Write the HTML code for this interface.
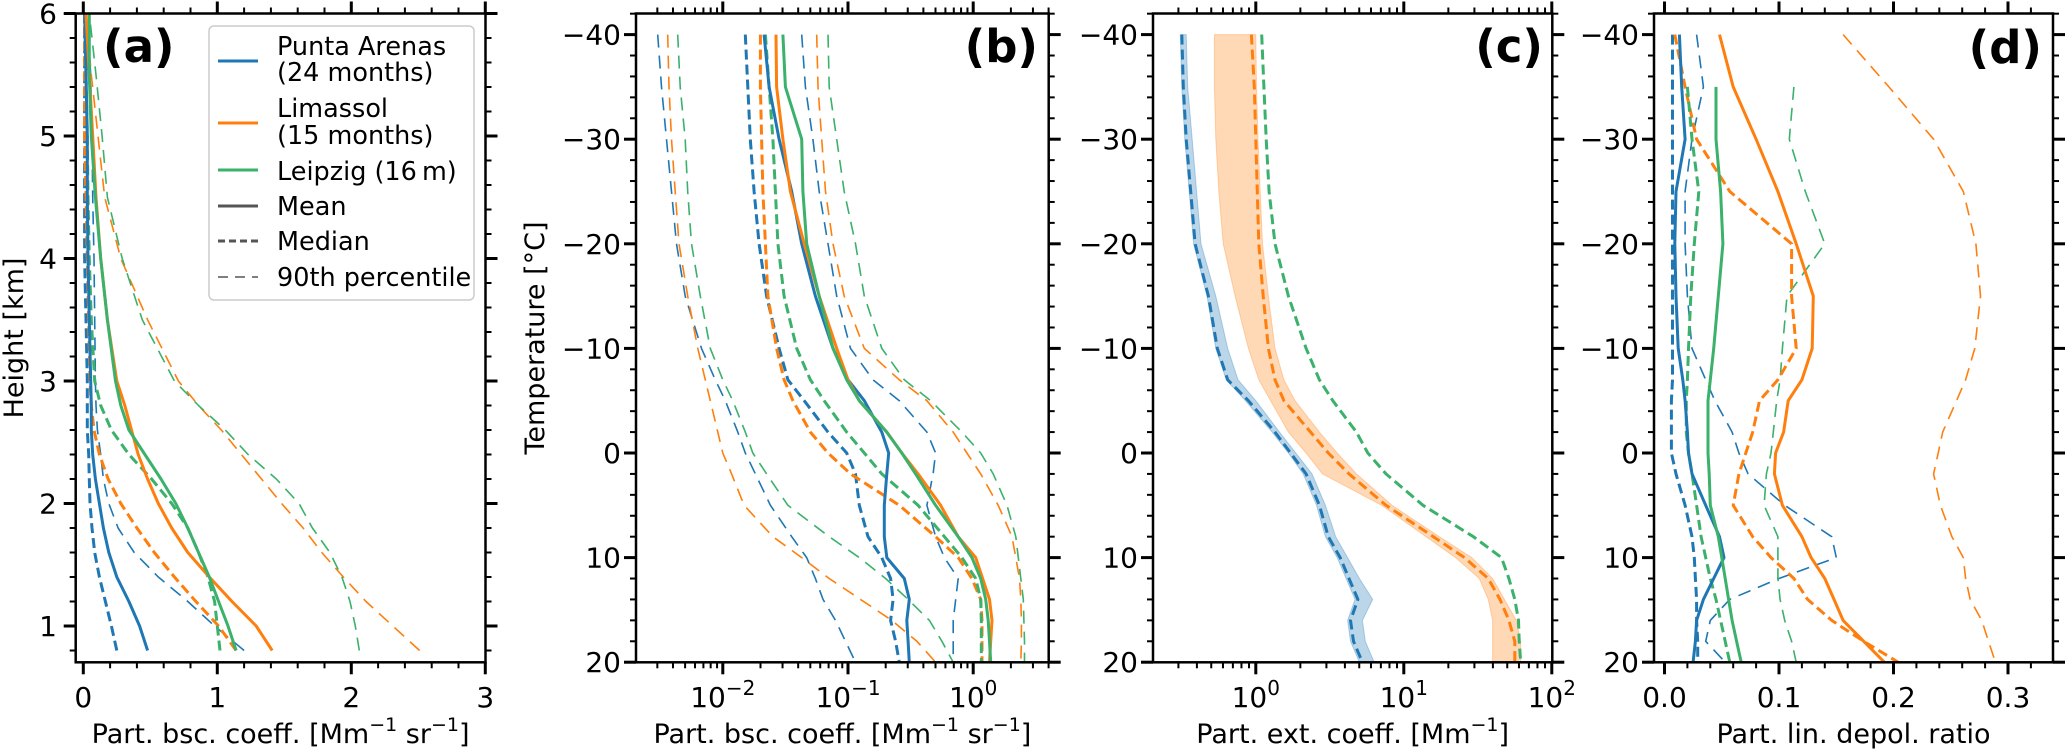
<!DOCTYPE html>
<html><head><meta charset="utf-8">
<style>
html,body{margin:0;padding:0;background:#fff;}
svg{display:block;font-family:"DejaVu Sans","Liberation Sans",sans-serif;}
</style></head>
<body>
<svg id="fig" width="2067" height="754" viewBox="0 0 2067 754" xmlns="http://www.w3.org/2000/svg"></svg>
<script>
// ---------- DATA ----------
const aHeights=[0.8,1.0,1.2,1.4,1.6,1.8,2.0,2.2,2.4,2.6,2.8,3.0,3.5,4.0,4.5,5.0,5.5,6.0];
const aBlueMean=[0.48,0.42,0.34,0.25,0.19,0.15,0.12,0.09,0.07,0.06,0.06,0.055,0.045,0.035,0.03,0.03,0.02,0.01];
const aBlueMedian=[0.25,0.21,0.165,0.12,0.085,0.065,0.05,0.045,0.04,0.03,0.03,0.03,0.02,0.01,0.01,0.01,0.01,0.01];
const aBlueP90=[1.2,0.98,0.78,0.56,0.38,0.26,0.19,0.15,0.13,0.105,0.095,0.09,0.085,0.08,0.07,0.065,0.055,0.03];
const aOrangeMean=[1.41,1.29,1.11,0.94,0.78,0.66,0.56,0.48,0.41,0.36,0.31,0.25,0.18,0.13,0.095,0.07,0.045,0.02];
const aOrangeMedian=[1.14,1.01,0.84,0.68,0.53,0.40,0.28,0.185,0.12,0.08,0.06,0.05,0.04,0.03,0.02,0.01,0.01,0.01];
const aOrangeP90=[2.51,2.31,2.11,1.94,1.78,1.64,1.48,1.33,1.18,1.03,0.86,0.71,0.48,0.28,0.16,0.11,0.06,0.02];
const aGreenMean=[1.14,1.08,1.01,0.94,0.86,0.78,0.69,0.58,0.46,0.34,0.28,0.24,0.18,0.13,0.09,0.06,0.045,0.045];
const aGreenMedian=[1.02,1.0,0.98,0.93,0.86,0.78,0.66,0.51,0.34,0.21,0.13,0.085,0.06,0.045,0.035,0.03,0.02,0.02];
const aGreenP90=[2.06,2.03,1.99,1.93,1.84,1.71,1.61,1.44,1.23,1.06,0.86,0.68,0.44,0.29,0.18,0.14,0.095,0.045];

const temps=[-40,-35,-30,-25,-20,-15,-10,-7,-5,-2,0,2,5,8,10,12,14,16,18,20];
const bBlueMeanLog=[-1.67,-1.63,-1.55,-1.45,-1.37,-1.26,-1.12,-1.0,-0.87,-0.73,-0.675,-0.69,-0.71,-0.71,-0.69,-0.55,-0.51,-0.53,-0.52,-0.51];
const bBlueMedianLog=[-1.82,-1.8,-1.78,-1.75,-1.71,-1.65,-1.55,-1.48,-1.35,-1.16,-1.01,-0.94,-0.91,-0.84,-0.73,-0.66,-0.64,-0.66,-0.62,-0.59];
const bBlueP90Log=[-1.37,-1.34,-1.28,-1.23,-1.16,-1.09,-0.98,-0.8,-0.59,-0.37,-0.3,-0.32,-0.37,-0.3,-0.23,-0.12,-0.14,-0.16,-0.16,-0.16];
const bBlueP10Log=[-2.52,-2.49,-2.45,-2.41,-2.37,-2.3,-2.17,-2.06,-1.98,-1.88,-1.82,-1.74,-1.62,-1.45,-1.33,-1.26,-1.2,-1.1,-1.02,-0.94];
const bOrangeMeanLog=[-1.575,-1.57,-1.52,-1.46,-1.35,-1.23,-1.09,-1.0,-0.91,-0.69,-0.57,-0.44,-0.26,-0.12,0.02,0.075,0.13,0.15,0.14,0.13];
const bOrangeMedianLog=[-1.7,-1.7,-1.69,-1.68,-1.66,-1.64,-1.57,-1.51,-1.44,-1.3,-1.16,-0.98,-0.59,-0.3,-0.12,-0.01,0.06,0.07,0.07,0.07];
const bOrangeP90Log=[-1.25,-1.24,-1.21,-1.18,-1.12,-1.03,-0.87,-0.59,-0.37,-0.16,-0.05,0.06,0.2,0.31,0.34,0.37,0.38,0.385,0.385,0.38];
const bOrangeP10Log=[-2.44,-2.43,-2.41,-2.38,-2.35,-2.28,-2.2,-2.14,-2.1,-2.04,-2.0,-1.93,-1.83,-1.6,-1.37,-1.15,-0.9,-0.65,-0.45,-0.3];
const bGreenMeanLog=[-1.52,-1.5,-1.37,-1.36,-1.33,-1.23,-1.12,-1.01,-0.91,-0.69,-0.57,-0.46,-0.3,-0.12,-0.01,0.06,0.1,0.12,0.13,0.14];
const bGreenMedianLog=[-1.66,-1.63,-1.6,-1.58,-1.56,-1.51,-1.41,-1.3,-1.19,-1.01,-0.87,-0.73,-0.44,-0.23,-0.09,0.02,0.06,0.065,0.065,0.065];
const bGreenP90Log=[-1.16,-1.15,-1.09,-1.03,-0.94,-0.87,-0.73,-0.55,-0.34,-0.09,0.06,0.16,0.27,0.34,0.36,0.38,0.4,0.405,0.41,0.41];
const bGreenP10Log=[-2.36,-2.34,-2.3,-2.28,-2.25,-2.18,-2.1,-2.0,-1.92,-1.82,-1.76,-1.65,-1.48,-1.15,-0.91,-0.7,-0.52,-0.35,-0.25,-0.16];
const cBlueMedianLog=[-0.5,-0.49,-0.47,-0.44,-0.41,-0.32,-0.26,-0.19,-0.05,0.13,0.235,0.34,0.43,0.49,0.57,0.63,0.69,0.64,0.66,0.72];
const cBlueLoLog=[-0.51,-0.5,-0.48,-0.45,-0.42,-0.33,-0.27,-0.2,-0.07,0.11,0.22,0.32,0.41,0.47,0.55,0.61,0.67,0.62,0.64,0.7];
const cBlueHiLog=[-0.47,-0.46,-0.43,-0.4,-0.37,-0.27,-0.19,-0.12,0.0,0.16,0.27,0.38,0.47,0.54,0.62,0.7,0.79,0.72,0.74,0.8];
const cOrangeMedianLog=[-0.03,-0.01,0.0,0.01,0.02,0.05,0.085,0.13,0.19,0.37,0.49,0.63,0.88,1.2,1.41,1.57,1.65,1.71,1.75,1.75];
const cOrangeLoLog=[-0.28,-0.28,-0.27,-0.25,-0.22,-0.14,-0.05,0.02,0.1,0.22,0.34,0.45,0.85,1.15,1.35,1.51,1.57,1.6,1.6,1.6];
const cOrangeHiLog=[0.0,0.005,0.015,0.03,0.045,0.085,0.13,0.19,0.265,0.43,0.55,0.68,0.92,1.24,1.46,1.6,1.68,1.76,1.79,1.79];
const cGreenMedianLog=[0.04,0.055,0.07,0.09,0.13,0.22,0.34,0.43,0.52,0.68,0.757,0.88,1.13,1.47,1.66,1.71,1.75,1.775,1.78,1.79];
const dBlueMean=[0.013,0.015,0.018,0.010,0.009,0.010,0.012,0.016,0.018,0.02,0.021,0.024,0.036,0.048,0.052,0.043,0.034,0.028,0.027,0.025];
const dBlueMedian=[0.007,0.007,0.007,0.007,0.007,0.007,0.007,0.007,0.006,0.006,0.006,0.01,0.018,0.024,0.026,0.027,0.028,0.028,0.029,0.029];
const dBlueP90=[0.028,0.034,0.024,0.018,0.018,0.02,0.024,0.036,0.044,0.059,0.065,0.073,0.105,0.146,0.15,0.1,0.057,0.04,0.036,0.053];
const dOrangeMean=[0.048,0.06,0.08,0.099,0.115,0.13,0.129,0.12,0.108,0.104,0.097,0.096,0.103,0.12,0.128,0.14,0.148,0.156,0.174,0.192];
const dOrangeMedian=[0.009,0.018,0.028,0.057,0.111,0.111,0.115,0.099,0.083,0.077,0.071,0.065,0.06,0.077,0.093,0.113,0.125,0.146,0.174,0.204];
const dOrangeP90=[0.156,0.196,0.235,0.261,0.272,0.276,0.271,0.263,0.255,0.243,0.239,0.235,0.241,0.251,0.261,0.263,0.267,0.277,0.283,0.289];
const dGreenMean=[null,0.045,0.045,0.049,0.051,0.047,0.043,0.04,0.038,0.038,0.038,0.039,0.04,0.047,0.05,0.053,0.056,0.059,0.063,0.067];
const dGreenMedian=[null,0.020,0.024,0.03,0.026,0.023,0.021,0.02,0.019,0.019,0.021,0.024,0.028,0.032,0.036,0.04,0.045,0.049,0.053,0.057];
const dGreenP90=[null,0.113,0.109,0.123,0.14,0.107,0.103,0.101,0.098,0.095,0.093,0.089,0.087,0.099,0.099,0.099,0.101,0.105,0.111,0.115];

// ---------- RENDER ----------
const NS="http://www.w3.org/2000/svg";
const svg=document.getElementById('fig');
const BLUE="#1f77b4",ORANGE="#ff7f0e",GREEN="#3bb16b";
const FS=28;
function mk(tag,attrs,parent){const e=document.createElementNS(NS,tag);for(const k in attrs)e.setAttribute(k,attrs[k]);(parent||svg).appendChild(e);return e;}

const TOP=13.5,BOT=662.3;
const yA=h=>626-(h-1)*122.5;
const yT=t=>34.6+(t+40)*10.46;
const xA=v=>83.3+v*134;
const xB=l=>973.2+l*125.2;
const xC=l=>1255.8+l*148;
const xD=v=>1664.5+v*1145;
const panels={a:[75.7,485.5],b:[636,1048.7],c:[1153,1552.3],d:[1654,2053]};

const defs=mk('defs',{});
for(const k in panels){const cp=mk('clipPath',{id:'clip-'+k},defs);mk('rect',{x:panels[k][0],y:TOP,width:panels[k][1]-panels[k][0],height:BOT-TOP},cp);}

const styles={mean:{w:3,dash:null},median:{w:3,dash:"10 5"},pct:{w:1.6,dash:"13 8"}};
function line(panel,xs,ys,color,kind,name){
  let d="";let pen=false;
  for(let i=0;i<xs.length;i++){
    if(xs[i]===null||ys[i]===null){pen=false;continue;}
    d+=(pen?"L":"M")+xs[i].toFixed(1)+","+ys[i].toFixed(1);pen=true;
  }
  const st=styles[kind];
  const p=mk('path',{d:d,fill:"none",stroke:color,"stroke-width":st.w,"clip-path":"url(#clip-"+panel+")","stroke-linejoin":"round"});
  if(st.dash)p.setAttribute('stroke-dasharray',st.dash);
  
  
  return p;
}
function band(panel,lo,hi,ys,color,name){
  let d="";
  for(let i=0;i<lo.length;i++)d+=(i?"L":"M")+lo[i].toFixed(1)+","+ys[i].toFixed(1);
  for(let i=hi.length-1;i>=0;i--)d+="L"+hi[i].toFixed(1)+","+ys[i].toFixed(1);
  d+="Z";
  const p=mk('path',{d:d,fill:color,"fill-opacity":0.3,stroke:color,"stroke-opacity":0.3,"stroke-width":1,"clip-path":"url(#clip-"+panel+")"});
  
  
}

const ya=aHeights.map(yA);
const mapA=a=>a.map(v=>v===null?null:xA(v));
line('a',mapA(aBlueP90),ya,BLUE,'pct','a-punta-arenas-p90');
line('a',mapA(aOrangeP90),ya,ORANGE,'pct','a-limassol-p90');
line('a',mapA(aGreenP90),ya,GREEN,'pct','a-leipzig-p90');
line('a',mapA(aBlueMedian),ya,BLUE,'median','a-punta-arenas-median');
line('a',mapA(aOrangeMedian),ya,ORANGE,'median','a-limassol-median');
line('a',mapA(aGreenMedian),ya,GREEN,'median','a-leipzig-median');
line('a',mapA(aBlueMean),ya,BLUE,'mean','a-punta-arenas-mean');
line('a',mapA(aOrangeMean),ya,ORANGE,'mean','a-limassol-mean');
line('a',mapA(aGreenMean),ya,GREEN,'mean','a-leipzig-mean');

const yt=temps.map(yT);
const mapB=a=>a.map(v=>v===null?null:xB(v));
line('b',mapB(bBlueP10Log),yt,BLUE,'pct','b-punta-arenas-p10');
line('b',mapB(bOrangeP10Log),yt,ORANGE,'pct','b-limassol-p10');
line('b',mapB(bGreenP10Log),yt,GREEN,'pct','b-leipzig-p10');
line('b',mapB(bBlueP90Log),yt,BLUE,'pct','b-punta-arenas-p90');
line('b',mapB(bOrangeP90Log),yt,ORANGE,'pct','b-limassol-p90');
line('b',mapB(bGreenP90Log),yt,GREEN,'pct','b-leipzig-p90');
line('b',mapB(bBlueMedianLog),yt,BLUE,'median','b-punta-arenas-median');
line('b',mapB(bOrangeMedianLog),yt,ORANGE,'median','b-limassol-median');
line('b',mapB(bGreenMedianLog),yt,GREEN,'median','b-leipzig-median');
line('b',mapB(bBlueMeanLog),yt,BLUE,'mean','b-punta-arenas-mean');
line('b',mapB(bOrangeMeanLog),yt,ORANGE,'mean','b-limassol-mean');
line('b',mapB(bGreenMeanLog),yt,GREEN,'mean','b-leipzig-mean');

const mapC=a=>a.map(v=>v===null?null:xC(v));
band('c',mapC(cBlueLoLog),mapC(cBlueHiLog),yt,BLUE,'c-punta-arenas-band');
band('c',mapC(cOrangeLoLog),mapC(cOrangeHiLog),yt,ORANGE,'c-limassol-band');
line('c',mapC(cBlueMedianLog),yt,BLUE,'median','c-punta-arenas-median');
line('c',mapC(cOrangeMedianLog),yt,ORANGE,'median','c-limassol-median');
line('c',mapC(cGreenMedianLog),yt,GREEN,'median','c-leipzig-median');

const mapD=a=>a.map(v=>v===null?null:xD(v));
line('d',mapD(dBlueP90),yt,BLUE,'pct','d-punta-arenas-p90');
line('d',mapD(dOrangeP90),yt,ORANGE,'pct','d-limassol-p90');
line('d',mapD(dGreenP90),yt,GREEN,'pct','d-leipzig-p90');
line('d',mapD(dBlueMedian),yt,BLUE,'median','d-punta-arenas-median');
line('d',mapD(dOrangeMedian),yt,ORANGE,'median','d-limassol-median');
line('d',mapD(dGreenMedian),yt,GREEN,'median','d-leipzig-median');
line('d',mapD(dBlueMean),yt,BLUE,'mean','d-punta-arenas-mean');
line('d',mapD(dOrangeMean),yt,ORANGE,'mean','d-limassol-mean');
line('d',mapD(dGreenMean),yt,GREEN,'mean','d-leipzig-mean');

// ---------- AXES ----------
const MAJ=12,MIN=6;
function tickX(px,major){
  mk('line',{x1:px,x2:px,y1:BOT,y2:BOT+(major?MAJ:MIN),stroke:"#000","stroke-width":major?3:2});
  mk('line',{x1:px,x2:px,y1:TOP,y2:TOP-(major?MAJ:MIN),stroke:"#000","stroke-width":major?3:2});
}
function tickY(panel,py,major){
  const [l,r]=panels[panel];
  mk('line',{x1:l,x2:l-(major?MAJ:MIN),y1:py,y2:py,stroke:"#000","stroke-width":major?3:2});
  mk('line',{x1:r,x2:r+(major?MAJ:MIN),y1:py,y2:py,stroke:"#000","stroke-width":major?3:2});
}
function txt(x,y,s,opts,name){
  const t=mk('text',Object.assign({x:x,y:y,"font-size":FS,fill:"#000"},opts||{}));
  t.textContent=s;
  
  
  return t;
}
function powLabel(x,y,exp,name){
  const t=mk('text',{x:x,y:y,"font-size":FS,"text-anchor":"middle",fill:"#000"});
  const a=mk('tspan',{},t);a.textContent="10";
  const b=mk('tspan',{dy:-12,"font-size":20},t);b.textContent=exp;
  
  
}

for(let v=0;v<=3.0001;v+=0.2){const maj=Math.abs(v-Math.round(v))<1e-6;tickX(xA(v),maj);}
[0,1,2,3].forEach(v=>txt(xA(v),707,String(v),{"text-anchor":"middle"},'a-x-tick-label'));
for(let h=0.8;h<=6.0001;h+=0.2){const maj=Math.abs(h-Math.round(h))<1e-6;tickY('a',yA(h),maj);}
[1,2,3,4,5,6].forEach(h=>txt(57,yA(h)+10,String(h),{"text-anchor":"end"},'a-y-tick-label'));

['b','c','d'].forEach(p=>{
  for(let t=-42;t<=20;t+=2){tickY(p,yT(t),t%10===0);}
  [-40,-30,-20,-10,0,10,20].forEach(t=>txt(panels[p][0]-15,yT(t)+10,t<0?"\u2212"+Math.abs(t):String(t),{"text-anchor":"end"},p+'-y-tick-label'));
});
for(let e=-3;e<=0;e++){for(let m=1;m<=9;m++){const lg=e+Math.log10(m);const px=xB(lg);if(px<panels.b[0]-0.5||px>panels.b[1]+0.5)continue;tickX(px,m===1);}}
powLabel(xB(-2),707,"\u22122",'b-x-tick-label');powLabel(xB(-1),707,"\u22121",'b-x-tick-label');powLabel(xB(0),707,"0",'b-x-tick-label');
for(let e=-1;e<=2;e++){for(let m=1;m<=9;m++){const lg=e+Math.log10(m);const px=xC(lg);if(px<panels.c[0]-0.5||px>panels.c[1]+0.5)continue;tickX(px,m===1);}}
powLabel(xC(0),707,"0",'c-x-tick-label');powLabel(xC(1),707,"1",'c-x-tick-label');powLabel(xC(2),707,"2",'c-x-tick-label');
for(let i=0;i<=17;i++){const v=i*0.02;const px=xD(v);if(px>panels.d[1]+0.5)continue;tickX(px,i%5===0);}
["0.0","0.1","0.2","0.3"].forEach((s,i)=>txt(xD(i*0.1),707,s,{"text-anchor":"middle"},'d-x-tick-label'));

for(const k in panels){const [l,r]=panels[k];const f=mk('rect',{x:l,y:TOP,width:r-l,height:BOT-TOP,fill:"none",stroke:"#000","stroke-width":2.5});

}

function xlabel(cx,parts,name){
  const t=mk('text',{x:cx,y:743,"font-size":27,"text-anchor":"middle",fill:"#000"});
  parts.forEach(p=>{const s=mk('tspan',p.sup?{dy:p.dy,"font-size":19}:{dy:p.dy||0},t);s.textContent=p.t;});
  
  
}
const bscParts=[{t:"Part. bsc. coeff. [Mm"},{t:"\u22121",sup:1,dy:-12},{t:" sr",dy:12},{t:"\u22121",sup:1,dy:-12},{t:"]",dy:12}];
xlabel(280.6,bscParts,'a-x-axis-title');
xlabel(842.4,bscParts,'b-x-axis-title');
xlabel(1352.7,[{t:"Part. ext. coeff. [Mm"},{t:"\u22121",sup:1,dy:-12},{t:"]",dy:12}],'c-x-axis-title');
xlabel(1853.5,[{t:"Part. lin. depol. ratio"}],'d-x-axis-title');
txt(0,0,"Height [km]",{"text-anchor":"middle","font-size":27,transform:"translate(23,338) rotate(-90)"},'a-y-axis-title');
txt(0,0,"Temperature [\u00b0C]",{"text-anchor":"middle","font-size":27,transform:"translate(544,338) rotate(-90)"},'b-y-axis-title');

txt(103,62,"(a)",{"font-size":45,"font-weight":"bold"},'panel-label-a');
txt(1038,62,"(b)",{"font-size":45,"font-weight":"bold","text-anchor":"end"},'panel-label-b');
txt(1543,62,"(c)",{"font-size":45,"font-weight":"bold","text-anchor":"end"},'panel-label-c');
txt(2042,63,"(d)",{"font-size":45,"font-weight":"bold","text-anchor":"end"},'panel-label-d');

const lg=mk('g',{});


mk('rect',{x:209,y:26,width:265,height:274,rx:5,fill:"#fff","fill-opacity":0.85,stroke:"#ccc","stroke-width":1.5},lg);
const entries=[
 {ly:61,color:BLUE,kind:'mean',lines:["Punta Arenas","(24 months)"],ty:[55,81],name:'legend-punta-arenas'},
 {ly:123,color:ORANGE,kind:'mean',lines:["Limassol","(15 months)"],ty:[117,144],name:'legend-limassol'},
 {ly:170,color:GREEN,kind:'mean',lines:["Leipzig (16\u2009m)"],ty:[180],name:'legend-leipzig'},
 {ly:206,color:"#555",kind:'mean',lines:["Mean"],ty:[215],name:'legend-mean'},
 {ly:241,color:"#555",kind:'median',lines:["Median"],ty:[250],name:'legend-median'},
 {ly:277,color:"#555",kind:'pct',lines:["90th percentile"],ty:[286],name:'legend-90th-percentile'}
];
entries.forEach(e=>{
  const g=mk('g',{},lg);
  
  
  const st=styles[e.kind];
  const l=mk('line',{x1:218,x2:258,y1:e.ly,y2:e.ly,stroke:e.color,"stroke-width":st.w},g);
  if(st.dash)l.setAttribute('stroke-dasharray',e.kind==='median'?"7 4":"10 7");
  e.lines.forEach((s,i)=>{const t=mk('text',{x:277,y:e.ty[i],"font-size":25.5,fill:"#000"},g);t.textContent=s;});
});
</script>
</body></html>
